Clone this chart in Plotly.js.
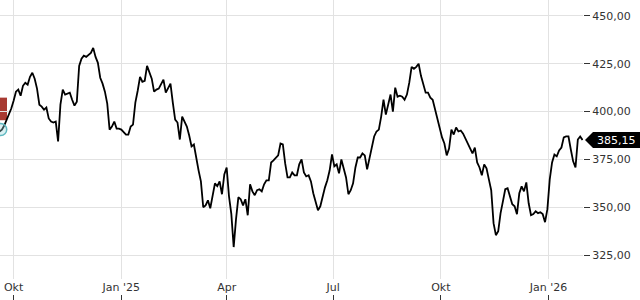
<!DOCTYPE html>
<html>
<head>
<meta charset="utf-8">
<script src="https://cdn.plot.ly/plotly-3.0.1.min.js"></script>
<style>html,body{margin:0;padding:0;background:#fff;}#chart{width:640px;height:300px;}</style>
</head>
<body>
<div id="chart"></div>
<script>
// Price series: one reading every 2 calendar days starting 2024-09-19
var startDate = '2024-09-19';
var stepDays = 2;
var prices = [
389.6,390.6,392.7,395.8,398.4,401.6,405.7,410.4,411.5,408.3,
413.5,415.1,414.1,418.2,420.3,417.2,412.0,403.6,402.6,401.0,
402.1,396.4,394.8,394.3,394.8,384.4,403.6,411.5,408.9,409.4,
409.9,406.2,403.1,405.2,423.9,427.6,429.2,428.6,429.7,430.7,
433.3,428.6,425.5,417.7,414.6,410.4,404.2,390.6,392.2,394.8,
391.1,391.1,390.6,389.1,388.0,388.0,392.2,393.2,404.7,410.9,
418.2,415.6,416.1,423.9,420.3,417.2,410.4,411.5,412.0,414.6,
416.7,409.9,412.0,414.6,404.7,395.8,394.3,385.4,397.4,394.3,
392.2,387.5,381.8,382.8,375.0,369.3,363.5,350.0,351.0,353.6,
349.5,355.2,362.5,361.0,363.5,356.8,367.2,370.8,355.7,346.4,
329.2,343.8,355.2,354.2,351.0,354.2,345.8,362.0,358.3,356.3,
358.9,359.4,358.3,362.0,364.1,364.1,373.4,374.5,376.0,377.1,
383.3,382.8,372.9,365.6,365.6,368.2,366.7,366.7,372.4,375.0,
368.2,366.1,366.7,363.5,357.3,352.1,348.4,350.5,356.3,360.4,
364.1,369.3,377.6,371.4,372.4,367.7,375.0,369.8,365.6,356.8,
358.9,362.5,370.8,376.0,376.0,378.1,377.1,369.8,375.0,381.2,
387.0,389.6,390.6,397.4,406.2,398.4,404.2,408.9,400.0,412.5,
407.8,408.3,407.8,406.2,408.9,415.1,423.4,422.4,423.4,425.0,
418.7,414.1,409.9,409.9,407.3,406.2,401.0,396.4,391.1,386.5,
383.3,377.1,380.7,390.6,388.0,391.7,389.6,390.1,388.5,385.9,
383.3,380.2,378.1,381.2,373.4,370.8,366.7,372.4,370.3,364.6,
358.9,341.7,335.4,337.5,346.9,353.1,359.4,359.9,356.3,351.6,
350.5,346.4,357.3,360.9,358.3,363.0,352.1,345.8,346.4,347.9,
346.9,347.4,346.4,342.2,349.0,364.6,373.4,377.6,376.6,379.7,
381.2,386.5,387.0,387.0,380.2,374.0,370.8,385.4,387.0,385.15
];
var tickDates = ['2024-10-01','2025-01-01','2025-04-01','2025-07-01','2025-10-01','2026-01-01'];
var tickLabels = ['Okt',"Jan '25",'Apr','Jul','Okt',"Jan '26"];
var yTicks = [325,350,375,400,425,450];
var eventDate = ['2024-09-20'];
var eventValue = [390.6];

var t0 = Date.parse(startDate + 'T00:00:00Z');
var dates = prices.map(function(_, i){
  return new Date(t0 + i*stepDays*86400000).toISOString().slice(0,10);
});
var lastVal = prices[prices.length-1];

var font = {family:'DejaVu Sans, sans-serif', size:11, color:'#333'};

var traces = [
  {x:dates, y:prices, type:'scatter', mode:'lines', line:{color:'#000', width:1.8}, hoverinfo:'skip', showlegend:false},
  {x:eventDate, y:eventValue, type:'scatter', mode:'markers', cliponaxis:false,
   marker:{symbol:'circle', size:12, color:'rgba(150,215,220,0.35)', line:{color:'#5fb8c0', width:1.5}}, showlegend:false, hoverinfo:'skip'},
  {x:dates, y:prices, xaxis:'x2', yaxis:'y', type:'scatter', mode:'lines', line:{width:0}, opacity:0, hoverinfo:'skip', showlegend:false}
];

var layout = {
  width:640, height:300,
  margin:{l:0, r:57, t:0, b:0},
  paper_bgcolor:'#fff', plot_bgcolor:'#fff',
  separators:',.',
  font:font,
  showlegend:false,
  xaxis:{
    type:'date', range:['2024-09-19 09:00','2026-01-30 10:00'],
    tickvals:tickDates, ticktext:tickLabels,
    showgrid:true, gridcolor:'#e2e2e2', gridwidth:1,
    ticks:'', showline:false, zeroline:false,
    tickfont:font, anchor:'y'
  },
  xaxis2:{
    type:'date', matches:'x', overlaying:'x', anchor:'free', position:0,
    tickvals:tickDates, ticktext:tickLabels, showticklabels:false,
    ticks:'inside', ticklen:5, tickwidth:1, tickcolor:'#333',
    showgrid:false, showline:false, zeroline:false
  },
  yaxis:{
    side:'right', domain:[0.07,1], range:[312.5,458.33],
    tickvals:yTicks, tickformat:'.2f',
    showgrid:true, gridcolor:'#e2e2e2', gridwidth:1,
    ticks:'outside', ticklen:6, tickwidth:1, tickcolor:'#333',
    showline:false, zeroline:false, tickfont:font
  },
  shapes:[
    {type:'rect', xref:'paper', yref:'y', x0:0, x1:0.012, y0:395.5, y1:407.3,
     fillcolor:'#a83a32', line:{width:0}, layer:'below'},
    {type:'path', xref:'paper', yref:'y', xsizemode:'pixel', ysizemode:'pixel',
     xanchor:1, yanchor:lastVal, path:'M 2,0 L 10,8 L 60,8 L 60,-8 L 10,-8 Z',
     fillcolor:'#000', line:{width:0}}
  ],
  annotations:[
    {xref:'paper', yref:'y', x:1, y:lastVal, xanchor:'left', yanchor:'middle',
     xshift:12, showarrow:false, text:lastVal.toFixed(2).replace('.',','),
     font:{family:'DejaVu Sans, sans-serif', size:11, color:'#fff'}}
  ]
};

Plotly.newPlot('chart', traces, layout, {staticPlot:true, displayModeBar:false});
</script>
</body>
</html>
